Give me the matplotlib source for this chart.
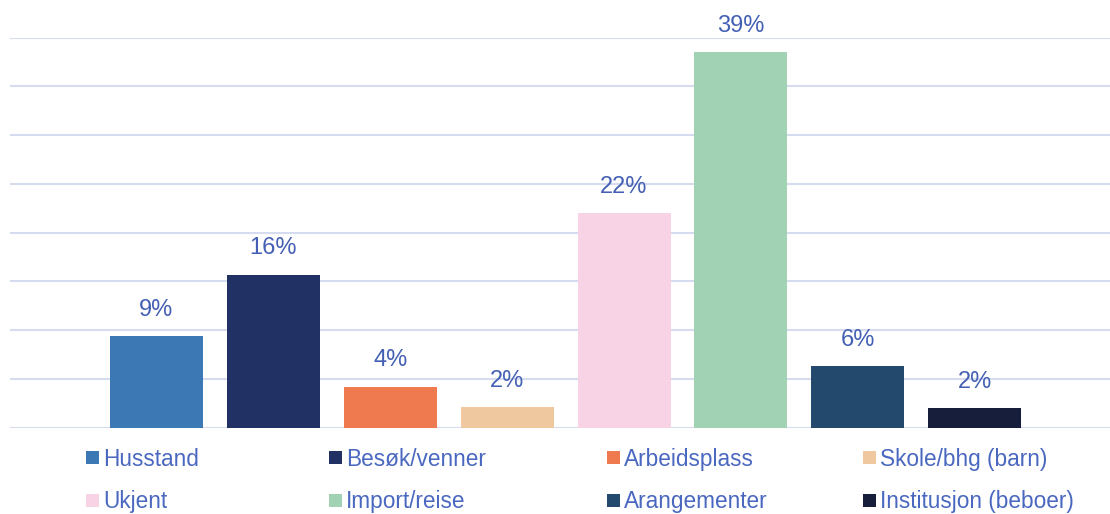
import matplotlib
matplotlib.use("Agg")
import matplotlib.pyplot as plt
from matplotlib.patches import Rectangle

categories = ["Husstand", "Besøk/venner", "Arbeidsplass", "Skole/bhg (barn)",
              "Ukjent", "Import/reise", "Arangementer", "Institusjon (beboer)"]
values = [9.4, 15.7, 4.2, 2.1, 22.0, 38.5, 6.3, 2.0]
labels = ["9%", "16%", "4%", "2%", "22%", "39%", "6%", "2%"]
colors = ["#3C78B4", "#223163", "#F07A50", "#F0C8A0",
          "#F8D2E5", "#A2D2B4", "#234A6C", "#161E3C"]

plt.rcParams['font.family'] = ['Liberation Sans', 'DejaVu Sans']
W, H = 1110, 514
fig = plt.figure(figsize=(W / 100, H / 100), dpi=100)
ax = fig.add_axes([10 / W, (H - 427.7) / H, 1 - 10 / W, (427.7 - 37.7) / H])

xs = list(range(len(values)))
bars = ax.bar(xs, values, width=0.795, color=colors, zorder=2)
ax.set_xlim(-1.253, 8.157)
ax.set_ylim(0, 40)
ax.set_yticks(range(0, 41, 5))
ax.yaxis.grid(True, color="#D5DCF0", linewidth=1.5, zorder=0)
ax.set_axisbelow(True)
ax.tick_params(left=False, bottom=False, labelleft=False, labelbottom=False)
for s in ax.spines.values():
    s.set_visible(False)

txt_color = "#4460B4"
for b, lab in zip(bars, labels):
    ax.annotate(lab, (b.get_x() + b.get_width() / 2, b.get_height()),
                xytext=(0, 11), textcoords="offset points",
                ha="center", va="bottom", fontsize=17, color=txt_color)

# legend (manual grid: 4 columns, 2 rows)
col_x = [86, 328.7, 606.7, 862.7]
row_c = [457.7, 500.3]
row_base = [465.6, 508.0]
sq = 13
legend_color = "#4A68C0"
for i, (cat, col) in enumerate(zip(categories, colors)):
    c, r = i % 4, i // 4
    x0 = col_x[c]
    yc = row_c[r]
    fig.add_artist(Rectangle((x0 / W, (H - yc - sq / 2) / H), sq / W, sq / H,
                             transform=fig.transFigure, facecolor=col,
                             edgecolor="none"))
    fig.text((x0 + sq + 4) / W, (H - row_base[r]) / H, cat, ha="left",
             va="baseline", fontsize=16.3, color=legend_color)

fig.savefig("out.png", dpi=100)
